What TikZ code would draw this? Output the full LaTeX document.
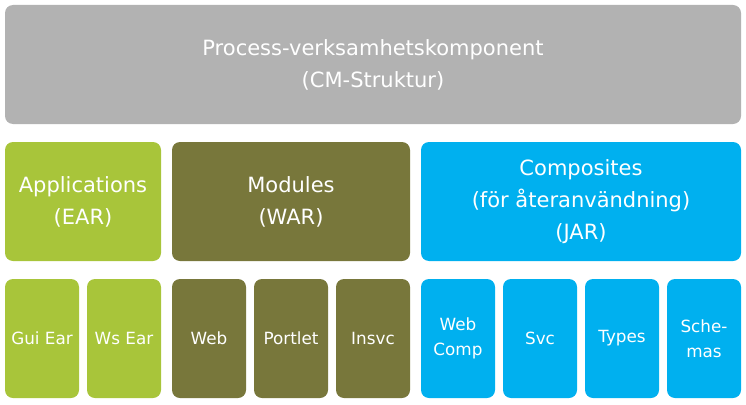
\documentclass[tikz,border=0pt]{standalone}
\usepackage{fontspec}
\setmainfont{DejaVu Sans}

\definecolor{cmgray}{HTML}{B2B2B2}
\definecolor{eargreen}{HTML}{A8C53A}
\definecolor{warolive}{HTML}{78773B}
\definecolor{jarblue}{HTML}{00B0EF}

\tikzset{
    block/.style={rounded corners=8pt, text=white, align=center,
        anchor=north west, inner sep=0pt, outer sep=0pt,
        minimum height=119pt},
    bigblock/.style={block, font=\fontsize{21}{32}\selectfont},
    partblock/.style={block, minimum width=74pt,
        font=\fontsize{16.8}{25}\selectfont},
}

\begin{document}
\begin{tikzpicture}[x=1pt,y=-1pt]
                \useasboundingbox (0,0) rectangle (746,404);
                % top level
                \node[bigblock, fill=cmgray, minimum width=736pt] (cm) at (5,5)
                    {Process-verksamhetskomponent\\(CM-Struktur)};
                % archive level
                \node[bigblock, fill=eargreen, minimum width=156pt] (ear) at (5,142)
                    {Applications\\(EAR)};
                \node[bigblock, fill=warolive, minimum width=238pt] (war) at (172,142)
                    {Modules\\(WAR)};
                \node[bigblock, fill=jarblue, minimum width=320pt] (jar) at (421,142)
                    {Composites\\(för återanvändning)\\(JAR)};
                % parts
                \node[partblock, fill=eargreen] (guiear) at (5,279) {Gui Ear};
                \node[partblock, fill=eargreen] (wsear) at (87,279) {Ws Ear};
                \node[partblock, fill=warolive] (web) at (172,279) {Web};
                \node[partblock, fill=warolive] (portlet) at (254,279) {Portlet};
                \node[partblock, fill=warolive] (insvc) at (336,279) {Insvc};
                \node[partblock, fill=jarblue] (webcomp) at (421,279) {Web\\Comp};
                \node[partblock, fill=jarblue] (svc) at (503,279) {Svc};
                \node[partblock, fill=jarblue] (types) at (585,279) {Types};
                \node[partblock, fill=jarblue] (schemas) at (667,279) {Sche-\\mas};
\end{tikzpicture}
\end{document}
